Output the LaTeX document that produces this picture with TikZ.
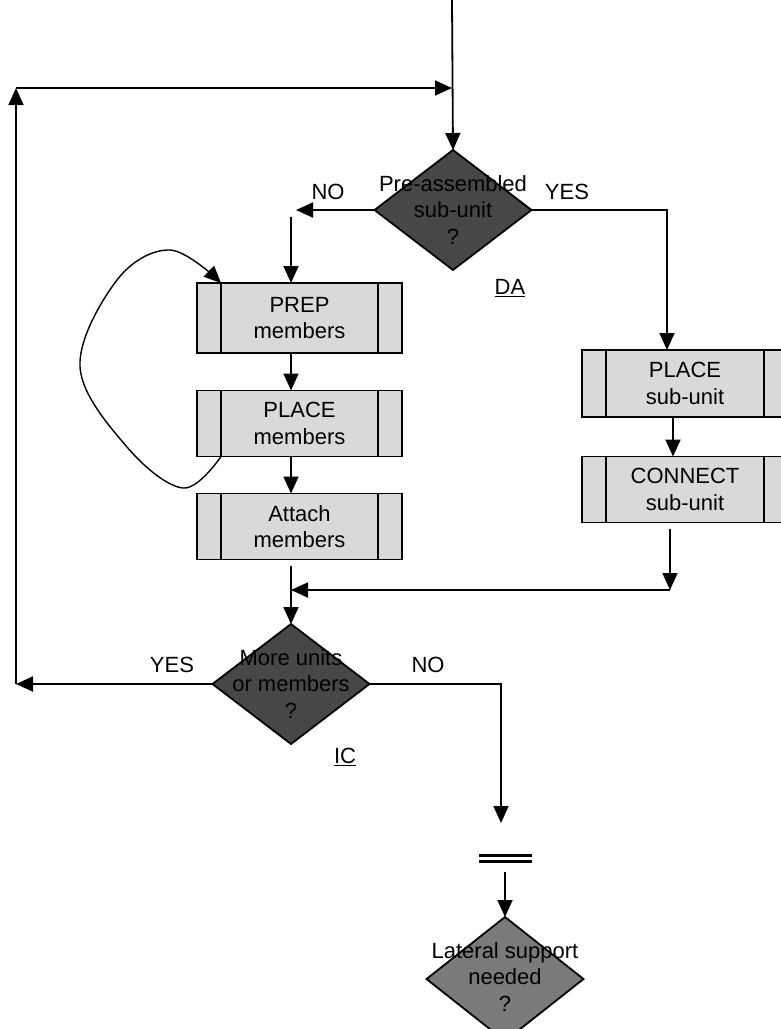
\documentclass[tikz,border=0pt]{standalone}
\usepackage{fontspec}
\setmainfont{Liberation Sans}
\usetikzlibrary{shapes.geometric,arrows.meta,calc}
\begin{document}
\begin{tikzpicture}[x=1pt,y=-1pt,
  line width=1.8pt,
  arr/.style={-{Triangle[length=17pt,width=15pt]}},
  fnt/.style={font=\fontsize{22}{26.5}\selectfont},
  box/.style={draw, fill=black!15, minimum width=205pt, minimum height=66pt, inner sep=0pt, outer sep=0pt, align=center, fnt},
  dec/.style={draw, diamond, minimum width=157pt, minimum height=120pt, inner sep=0pt, outer sep=0pt},
  txt/.style={align=center, fnt, inner sep=0pt},
  bars/.style={line width=1.8pt},
]
\useasboundingbox (0,0) rectangle (780,1029);

% decisions
\node[dec, fill=black!72] (DA) at (453,210) {};
\node[txt] (DAt) at (DA) {Pre-assembled\\sub-unit\\?};
\node[dec, fill=black!72] (IC) at (291,684) {};
\node[txt] (ICt) at (IC) {More units\\or members\\?};
\node[dec, fill=black!52, minimum height=124pt] (LAT) at (505,979) {};
\node[txt] (LATt) at (505,977) {Lateral support\\needed\\?};

% process boxes
\node[box, minimum height=70pt] (PREP) at (299.5,318) {PREP\\members};
\node[box] (PLM) at (299.5,423.5) {PLACE\\members};
\node[box] (ATT) at (299.5,526.5) {Attach\\members};
\node[box, minimum width=206pt, minimum height=67pt] (PLS) at (685,383.5) {PLACE\\sub-unit};
\node[box, minimum width=206pt] (CON) at (685,489.5) {CONNECT\\sub-unit};

\foreach \b in {PREP,PLM,ATT,PLS,CON}{
  \draw[bars] ($(\b.north west)+(24,0)$) -- ($(\b.south west)+(24,0)$);
  \draw[bars] ($(\b.north east)+(-24,0)$) -- ($(\b.south east)+(-24,0)$);
}

% labels
\node[txt] (noA) at (328,192) {NO};
\node[txt] (yesA) at (567,192) {YES};
\node[txt] (da) at (510,288) {\underline{DA}};
\node[txt] (yesB) at (172,665) {YES};
\node[txt] (noB) at (428,665) {NO};
\node[txt] (ic) at (345,757) {\underline{IC}};

% helper coordinates
\coordinate (xl) at (291,0);
\coordinate (noend) at (296,210);
\coordinate (nostart) at (291,217);
\coordinate (m) at (670,590);
\coordinate (yl) at (16,684);
\coordinate (yt) at (16,88);
\coordinate (yr) at (452,88);
\coordinate (top) at (452,0);
\coordinate (n1) at (501,823);
\coordinate (b2) at (505,872);

% connectors
\draw[arr] (top) -- (DA.north);
\draw[arr] (DA.west) -- (noend);
\draw[arr] (nostart) -- (PREP.north -| xl);
\draw[arr] (PREP.south -| xl) -- (PLM.north -| xl);
\draw[arr] (PLM.south -| xl) -- (ATT.north -| xl);
\draw[arr] ($(ATT.south -| xl)+(0,6)$) -- (IC.north);

\draw[arr] (DA.east) -| ($(PLS.north)+(-18,0)$);
\draw[arr] ($(PLS.south)+(-12,0)$) -- ($(CON.north)+(-12,0)$);
\draw[arr] ($(CON.south)+(-15,6)$) -- (m);
\draw[arr] (m) -- (m -| xl);

\draw[arr] (IC.west) -- (yl);
\draw[arr] (yl) -- (yt);
\draw[arr] (yt) -- (yr);

\draw[arr] (IC.east) -| (n1);
\draw[line width=2.8pt] (479,855.5) -- (532,855.5);
\draw[line width=2.8pt] (479,861.5) -- (532,861.5);
\draw[arr] (b2) -- (LAT.north);

% loop back
\draw[arr, line width=1.4pt] plot[smooth, tension=0.6] coordinates
  {($(PLM.south west)+(24,0)$) (183,488) (127,447) (80,367) (117,280) (170,250) ($(PREP.north west)+(24,0)$)};
\end{tikzpicture}
\end{document}
